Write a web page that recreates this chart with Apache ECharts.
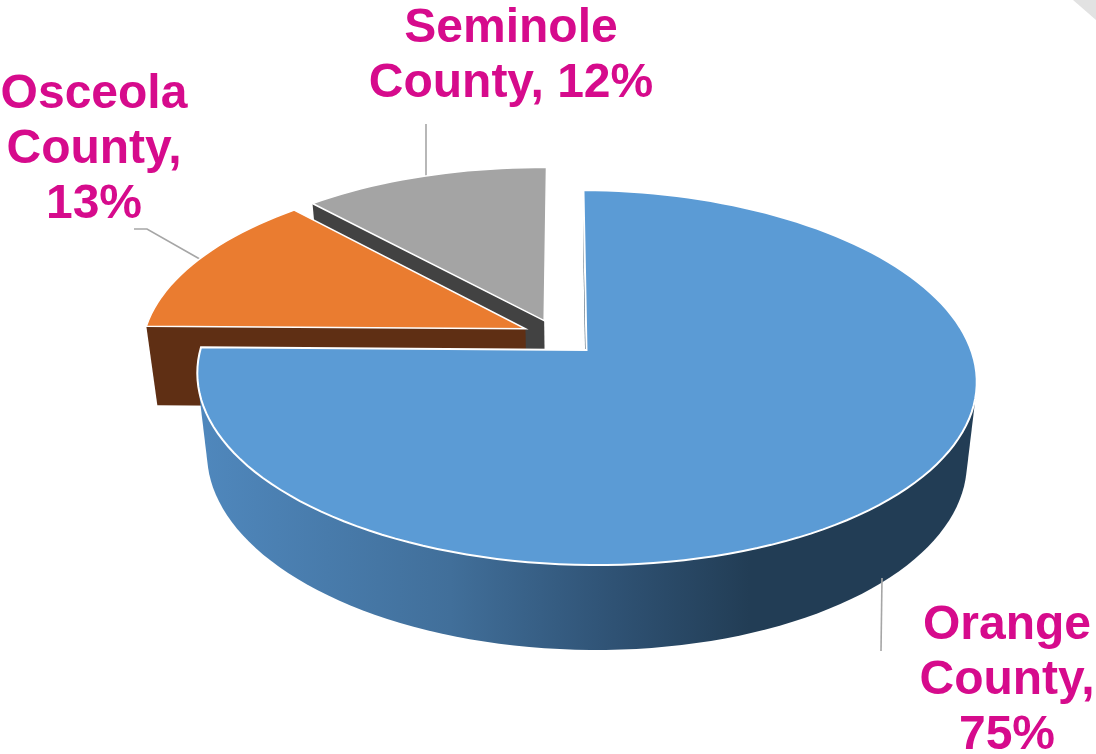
<!DOCTYPE html>
<html>
  <head>
    <meta charset="utf-8" />
    <title>County share</title>
    <script src="https://cdn.jsdelivr.net/npm/echarts@6/dist/echarts.min.js"></script>
    <style>
      html, body { margin: 0; padding: 0; background: #fff; }
      #main { width: 1096px; height: 754px; }
    </style>
  </head>
  <body>
    <div id="main"></div>
    <script type="text/javascript">
      // data, clockwise from 12 o'clock
      const categories = ['Orange County', 'Osceola County', 'Seminole County'];
      const seriesValues = [75, 13, 12];
      const topColors = ['#5b9bd5', '#ea7c30', '#a4a4a4'];
      const sideColors = ['#254057', '#5f2f14', '#424242'];
      const lastLineJoin = ['\n', '\n', ' '];

      // fake 3D projection of the disc
      const cx = 586.5, cy = 350, radiusX = 385.5, radiusY = 183.5;
      const perspective = 0.1467, shear = 0.019, tilt = 0.007;
      const depth = 79.7, depthShrink = 0.975;

      // per slice layout, same order as the data
      const explode = [[0, 0], [-0.16, -0.115], [-0.111, -0.162]];
      const drawOrder = [3, 2, 1];
      const labelPos = [[1007, 681], [94, 150], [511, 56.5]];
      const leaderLines = [
        [[882, 578], [881, 651]],
        [[134, 229], [147, 229], [205, 262]],
        [[426, 178], [426, 124]]
      ];

      const total = seriesValues.reduce((a, b) => a + b, 0);

      function project(X, Y, z) {
        const s = 1 / (1 - perspective * Y);
        let x = radiusX * X * s;
        let y = radiusY * Y * s;
        const rawX = x;
        x += shear * y;
        y += tilt * rawX;
        if (z) {
          return [cx + x * depthShrink, cy + y + depth * Math.pow(s, 0.4)];
        }
        return [cx + x, cy + y];
      }

      function rimPoints(a0, a1, off, z) {
        const pts = [];
        const n = Math.max(2, Math.ceil((a1 - a0) / 2));
        for (let i = 0; i <= n; i++) {
          const a = (a0 + (a1 - a0) * i / n) * Math.PI / 180;
          pts.push(project(off[0] + Math.sin(a), off[1] - Math.cos(a), z));
        }
        return pts;
      }

      // monotone chain, the drum's outline is just the hull of both rims
      function convexHull(points) {
        const pts = points.slice().sort((p, q) => p[0] - q[0] || p[1] - q[1]);
        const cross = (o, p, q) => (p[0] - o[0]) * (q[1] - o[1]) - (p[1] - o[1]) * (q[0] - o[0]);
        const half = (list) => {
          const out = [];
          list.forEach((p) => {
            while (out.length > 1 && cross(out[out.length - 2], out[out.length - 1], p) <= 0) {
              out.pop();
            }
            out.push(p);
          });
          out.pop();
          return out;
        };
        return half(pts).concat(half(pts.slice().reverse()));
      }

      const blueWall = new echarts.graphic.LinearGradient(205, 0, 750, 0, [
        { offset: 0, color: '#4f87bc' },
        { offset: 0.45, color: '#416f9a' },
        { offset: 0.75, color: '#2f5274' },
        { offset: 1, color: '#223d55' }
      ], true);

      function renderSlice(params, api) {
        const i = params.dataIndex;
        const value = api.value(0);
        let before = 0;
        for (let k = 0; k < i; k++) {
          before += seriesValues[k];
        }
        const a0 = before / total * 360;
        const a1 = (before + value) / total * 360;
        const off = explode[i];
        const z = drawOrder[i] * 10;
        const children = [];

        const apexTop = project(off[0], off[1], false);
        const apexBot = project(off[0], off[1], true);
        const top = rimPoints(a0, a1, off, false);
        const bot = rimPoints(a0, a1, off, true);

        // outer wall, only the part facing the viewer is ever seen
        const a2 = Math.max(a0, 90);
        if (a1 - a2 > 90) {
          children.push({
            type: 'polygon', z2: z,
            shape: { points: convexHull(rimPoints(a2, a1, off, false).concat(rimPoints(a2, a1, off, true))) },
            style: { fill: blueWall }
          });
        }
        // only the leading cut face ever shows
        children.push({
          type: 'polygon', z2: z + 1,
          shape: { points: [apexTop, top[0], bot[0], apexBot] },
          style: { fill: sideColors[i] }
        });
        // leader goes under the top face
        children.push({
          type: 'polyline', z2: z + 2,
          shape: { points: leaderLines[i] },
          style: { stroke: '#a6a6a6', lineWidth: 1.6, fill: null }
        });
        // top face
        children.push({
          type: 'polygon', z2: z + 3,
          shape: { points: [apexTop].concat(top) },
          style: { fill: topColors[i], stroke: '#fff', lineWidth: i === 0 ? 2 : 1.5, lineJoin: 'miter' }
        });
        // label
        const words = categories[i].split(' ');
        const pct = Math.round(value / total * 100) + '%';
        children.push({
          type: 'text', z2: 100,
          style: {
            text: words[0] + '\n' + words[1] + ',' + lastLineJoin[i] + pct,
            x: labelPos[i][0],
            y: labelPos[i][1],
            fill: '#d60b8c',
            font: 'bold 48px "Liberation Sans", Arial, sans-serif',
            lineHeight: 55,
            align: 'center',
            verticalAlign: 'middle'
          }
        });
        return { type: 'group', children: children };
      }

      const myChart = echarts.init(document.getElementById('main'), null, { renderer: 'canvas' });
      myChart.setOption({
        animation: false,
        backgroundColor: '#ffffff',
        graphic: [{
          type: 'polygon',
          shape: { points: [[1073, 0], [1096, 0], [1096, 20]] },
          style: { fill: '#e2e2e2' }
        }],
        series: [{
          type: 'custom',
          coordinateSystem: 'none',
          silent: true,
          renderItem: renderSlice,
          data: seriesValues.map((v) => [v])
        }]
      });
    </script>
  </body>
</html>
